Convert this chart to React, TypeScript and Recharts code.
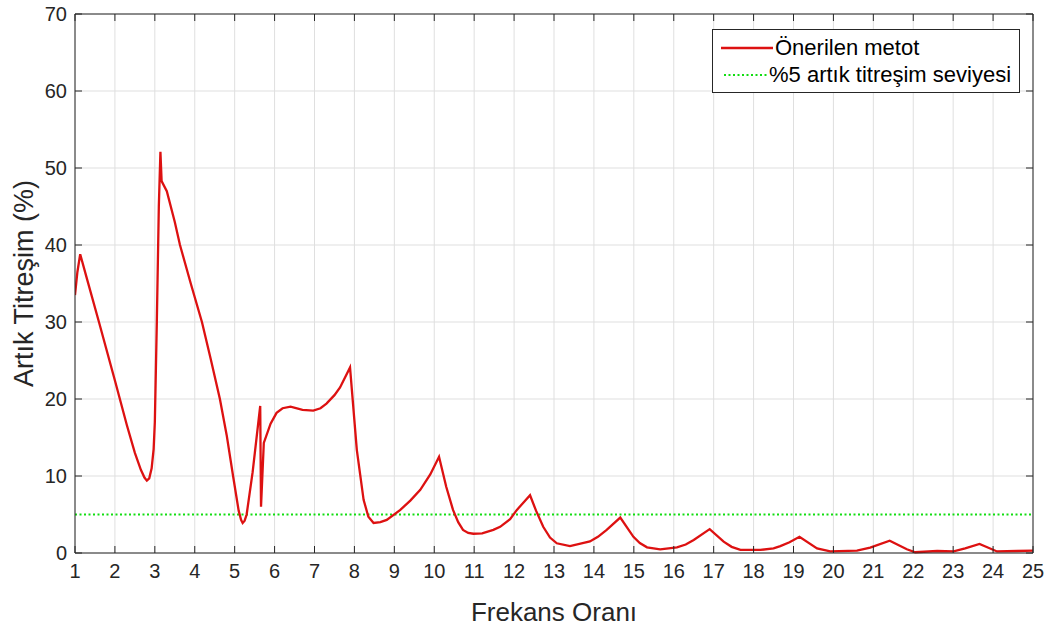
import { CartesianGrid, Label, Line, LineChart, ReferenceLine, XAxis, YAxis } from "recharts";

const freq = [
  1.0, 1.06, 1.13, 1.3, 1.6, 2.0, 2.3, 2.5, 2.65, 2.74, 2.8, 2.86, 2.92, 2.97, 3.0, 3.05, 3.1, 3.14, 3.17, 3.3,
  3.5, 3.63, 3.9, 4.18, 4.4, 4.63, 4.8, 4.96, 5.1, 5.16, 5.2, 5.25, 5.3, 5.45, 5.64, 5.66, 5.73, 5.9, 6.05, 6.2,
  6.4, 6.7, 6.97, 7.15, 7.3, 7.5, 7.64, 7.89, 8.06, 8.23, 8.35, 8.48, 8.65, 8.81, 9.15, 9.4, 9.65, 9.9, 10.12, 10.3,
  10.47, 10.6, 10.72, 10.85, 10.98, 11.2, 11.48, 11.65, 11.9, 12.07, 12.4, 12.55, 12.73, 12.9, 13.07, 13.4, 13.9, 14.1, 14.32, 14.66,
  14.99, 15.15, 15.33, 15.66, 16.08, 16.3, 16.5, 16.9, 17.25, 17.45, 17.67, 18.17, 18.5, 18.67, 18.9, 19.15, 19.59, 19.92, 20.59, 20.92,
  21.41, 21.84, 22.05, 22.6, 23.01, 23.3, 23.66, 24.1, 24.6, 25.0,
];

const residual = [
  33.5, 36.5, 38.8, 35.6, 30.0, 22.4, 16.6, 13.0, 10.8, 9.8, 9.4, 9.7, 11.0, 13.5, 17.0, 30.0, 45.0, 52.1, 48.3, 47.0,
  43.0, 40.0, 35.0, 30.0, 25.2, 20.0, 15.3, 10.0, 5.5, 4.3, 3.9, 4.2, 5.0, 10.5, 19.1, 6.0, 14.3, 16.8, 18.2, 18.8,
  19.0, 18.6, 18.5, 18.8, 19.4, 20.5, 21.5, 24.1, 13.4, 6.9, 4.7, 3.9, 4.0, 4.3, 5.6, 6.8, 8.2, 10.2, 12.5, 8.6,
  5.6, 4.0, 3.0, 2.6, 2.5, 2.55, 3.0, 3.4, 4.4, 5.6, 7.5, 5.5, 3.4, 2.0, 1.26, 0.9, 1.5, 2.1, 3.0, 4.6,
  2.1, 1.3, 0.74, 0.48, 0.74, 1.1, 1.7, 3.1, 1.47, 0.8, 0.4, 0.4, 0.6, 0.9, 1.4, 2.1, 0.6, 0.2, 0.3, 0.7,
  1.6, 0.48, 0.1, 0.26, 0.2, 0.6, 1.17, 0.2, 0.26, 0.3,
];

const xTicks = [1, 2, 3, 4, 5, 6, 7, 8, 9, 10, 11, 12, 13, 14, 15, 16, 17, 18, 19, 20, 21, 22, 23, 24, 25];
const yTicks = [0, 10, 20, 30, 40, 50, 60, 70];
const threshold = 5;

const data = freq.map((f, i) => ({ f, v: residual[i] }));

const AXIS = "#262626";
const RED = "#dd1111";
const GREEN = "#11dd11";
const FONT = "Arial, 'Liberation Sans', sans-serif";

function LegendBox() {
  return (
    <div style={{ position: "absolute", top: 29, left: 712, border: "1px solid #262626", background: "#fff", padding: "4px 8px 4px 8px", fontFamily: FONT, fontSize: 22, color: "#000", lineHeight: "27px", whiteSpace: "nowrap" }}>
      <div style={{ display: "flex", alignItems: "center" }}>
        <svg width={52} height={10} style={{ marginRight: 2 }}><line x1={0} y1={5} x2={52} y2={5} stroke={RED} strokeWidth={2.3} /></svg>
        Önerilen metot
      </div>
      <div style={{ display: "flex", alignItems: "center" }}>
        <svg width={44} height={10} style={{ marginLeft: 3, marginRight: 1 }}><line x1={0} y1={5} x2={44} y2={5} stroke={GREEN} strokeWidth={2.2} strokeDasharray="2 2.5" /></svg>
        %5 artık titreşim seviyesi
      </div>
    </div>
  );
}

export default function App() {
  return (
    <div style={{ position: "absolute", left: 0, top: 0, width: 1053, height: 626, background: "#fff" }}>
      <LineChart width={1053} height={626} data={data} margin={{ top: 13, right: 19, left: 0, bottom: 0 }}>
        <CartesianGrid stroke="#dfdfdf" strokeWidth={1} />
        <XAxis dataKey="f" type="number" domain={[1, 25]} ticks={xTicks} allowDataOverflow
          stroke={AXIS} tickSize={-7} tickMargin={18} height={73}
          tick={{ fill: AXIS, fontSize: 20, fontFamily: FONT }}>
          <Label value="Frekans Oranı" position="insideBottom" offset={5} style={{ fill: AXIS, fontSize: 26, fontFamily: FONT }} />
        </XAxis>
        <XAxis xAxisId="top" dataKey="f" orientation="top" type="number" domain={[1, 25]} ticks={xTicks} allowDataOverflow
          stroke={AXIS} tickSize={-7} height={1} tickFormatter={() => ""} />
        <YAxis type="number" domain={[0, 70]} ticks={yTicks} stroke={AXIS} tickSize={-7} tickMargin={15} width={75}
          tick={{ fill: AXIS, fontSize: 20, fontFamily: FONT }}>
          <Label value="Artık Titreşim (%)" angle={-90} position="center" dx={-14} dy={0} style={{ fill: AXIS, fontSize: 27, fontFamily: FONT, textAnchor: "middle" }} />
        </YAxis>
        <YAxis yAxisId="right" orientation="right" type="number" domain={[0, 70]} ticks={yTicks} stroke={AXIS} tickSize={-7} width={1} tickFormatter={() => ""} />
        <ReferenceLine y={threshold} stroke={GREEN} strokeWidth={2.2} strokeDasharray="2 2.5" />
        <Line dataKey="v" type="linear" stroke={RED} strokeWidth={2.3} dot={false} isAnimationActive={false} />
        <Line dataKey="v" xAxisId="top" yAxisId="right" type="linear" stroke="none" dot={false} activeDot={false} isAnimationActive={false} />
      </LineChart>
      <LegendBox />
    </div>
  );
}
